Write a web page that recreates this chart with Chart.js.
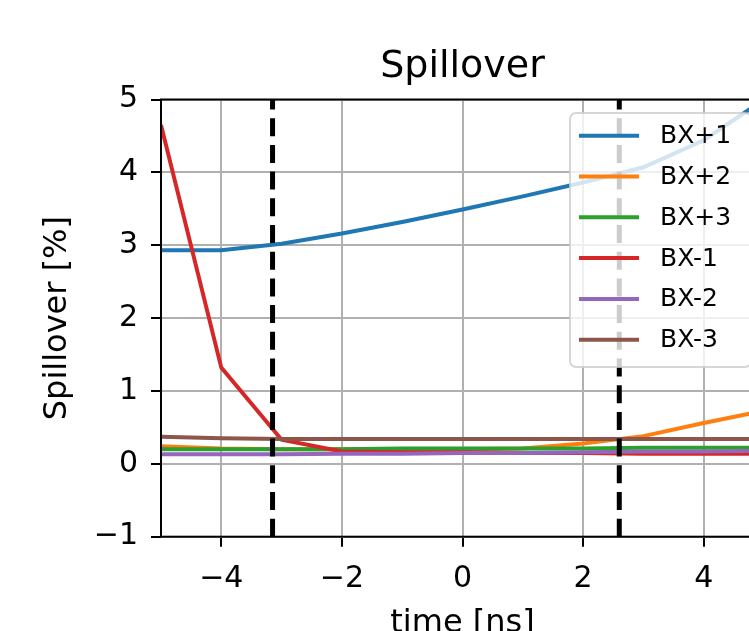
<!DOCTYPE html>
<html>
<head>
<meta charset="utf-8">
<script src="https://cdn.jsdelivr.net/npm/chart.js@4"></script>
<style>
  html, body { margin: 0; padding: 0; overflow: hidden; background: #fff; }
</style>
</head>
<body>
<canvas id="myChart" width="800" height="700"></canvas>
<script>
// time points [ns]
const times = [-5, -4, -3, -2, -1, 0, 1, 2, 3, 4, 5];

// spillover [%] per bunch crossing
const bxPlus1  = [2.93, 2.93, 3.02, 3.16, 3.32, 3.49, 3.67, 3.86, 4.07, 4.44, 5.00];
const bxPlus2  = [0.24, 0.21, 0.20, 0.20, 0.20, 0.20, 0.21, 0.28, 0.38, 0.56, 0.73];
const bxPlus3  = [0.20, 0.20, 0.20, 0.20, 0.21, 0.21, 0.21, 0.21, 0.22, 0.22, 0.22];
const bxMinus1 = [4.65, 1.32, 0.33, 0.17, 0.16, 0.16, 0.15, 0.15, 0.14, 0.14, 0.14];
const bxMinus2 = [0.13, 0.13, 0.13, 0.14, 0.14, 0.15, 0.15, 0.16, 0.17, 0.17, 0.18];
const bxMinus3 = [0.37, 0.35, 0.34, 0.34, 0.34, 0.34, 0.34, 0.34, 0.34, 0.34, 0.34];

const seriesLabels = ['BX+1', 'BX+2', 'BX+3', 'BX-1', 'BX-2', 'BX-3'];
const seriesColors = ['#1f77b4', '#ff7f0e', '#2ca02c', '#d62728', '#9467bd', '#8c564b'];
const seriesValues = [bxPlus1, bxPlus2, bxPlus3, bxMinus1, bxMinus2, bxMinus3];

// dashed markers [ns]
const cutLines = [-3.15, 2.6];

const xTicks = [-4, -2, 0, 2, 4];
const yTicks = [-1, 0, 1, 2, 3, 4, 5];

const chartTitle = 'Spillover';
const fontFamily = "'DejaVu Sans', sans-serif";
let fmt = v => (v < 0 ? '\u2212' + Math.abs(v) : String(v));

let datasets = seriesValues.map((vals, i) => ({
  label: seriesLabels[i],
  data: times.map((t, j) => ({ x: t, y: vals[j] })),
  borderColor: seriesColors[i],
  backgroundColor: seriesColors[i],
  borderWidth: 4,
  pointRadius: 0,
  tension: 0,
  order: -i,
}));

cutLines.forEach(c => {
  datasets.push({
    label: '',
    data: [{ x: c, y: -1 }, { x: c, y: 5 }],
    borderColor: '#000',
    borderWidth: 5,
    borderDash: [18, 8.7],
    pointRadius: 0,
    order: -100,
  });
});

// axes box, title (centred on the plot) and legend inside the plot
const frameAndLegend = {
  id: 'frameAndLegend',
  afterDatasetsDraw(chart) {
    const { ctx, chartArea: a } = chart;
    ctx.save();
    ctx.strokeStyle = '#000';
    ctx.lineWidth = 2;
    ctx.strokeRect(a.left, a.top, a.right - a.left, a.bottom - a.top);

    ctx.fillStyle = '#000';
    ctx.font = '38px ' + fontFamily;
    ctx.textAlign = 'center';
    ctx.textBaseline = 'alphabetic';
    ctx.fillText(chartTitle, (a.left + a.right) / 2, a.top - 23);

    const left = 570, top = a.top + 13.5, right = a.right - 13, h = 254, r = 6;
    ctx.beginPath();
    ctx.roundRect(left, top, right - left, h, r);
    ctx.fillStyle = 'rgba(255,255,255,0.8)';
    ctx.fill();
    ctx.strokeStyle = 'rgba(204,204,204,0.8)';
    ctx.lineWidth = 2;
    ctx.stroke();

    ctx.font = '25px ' + fontFamily;
    ctx.textBaseline = 'middle';
    ctx.textAlign = 'left';
    seriesLabels.forEach((lab, i) => {
      const y = top + 22.7 + i * 40.8;
      ctx.beginPath();
      ctx.moveTo(left + 9, y);
      ctx.lineTo(left + 69, y);
      ctx.strokeStyle = seriesColors[i];
      ctx.lineWidth = 4;
      ctx.stroke();
      ctx.fillStyle = '#000';
      ctx.fillText(lab, left + 90, y + 1);
    });
    ctx.restore();
  }
};

let ctx = document.getElementById('myChart').getContext('2d');
let chart = new Chart(ctx, {
  type: 'line',
  data: { datasets: datasets },
  options: {
    responsive: false,
    animation: false,
    layout: { padding: { left: 0, right: 36, top: 99.5, bottom: 0 } },
    plugins: {
      legend: { display: false },
      tooltip: { enabled: false },
      title: { display: false },
    },
    scales: {
      x: {
        type: 'linear',
        min: -5,
        max: 5,
        afterBuildTicks: s => { s.ticks = xTicks.map(v => ({ value: v })); },
        afterFit: s => { s.height = 700 - 536.7; },
        grid: { color: '#b0b0b0', lineWidth: 2, tickColor: '#000', tickWidth: 2, tickLength: 10 },
        border: { display: false },
        ticks: {
          color: '#000',
          padding: 15,
          maxRotation: 0,
          font: { family: fontFamily, size: 30 },
          callback: v => fmt(v),
        },
        title: {
          display: true,
          text: 'time [ns]',
          color: '#000',
          font: { family: fontFamily, size: 32, lineHeight: 1.2 },
          padding: { top: 0, bottom: 57 },
        },
      },
      y: {
        type: 'linear',
        min: -1,
        max: 5,
        afterBuildTicks: s => { s.ticks = yTicks.map(v => ({ value: v })); },
        afterFit: s => { s.width = 161; },
        grid: { color: '#b0b0b0', lineWidth: 2, tickColor: '#000', tickWidth: 2, tickLength: 10 },
        border: { display: false },
        ticks: {
          color: '#000',
          padding: 13,
          font: { family: fontFamily, size: 30 },
          callback: v => fmt(v),
        },
        title: {
          display: true,
          text: 'Spillover [%]',
          color: '#000',
          font: { family: fontFamily, size: 32, lineHeight: 1.2 },
          padding: { top: 38.8, bottom: 0 },
        },
      },
    },
  },
  plugins: [frameAndLegend],
});
</script>
</body>
</html>
